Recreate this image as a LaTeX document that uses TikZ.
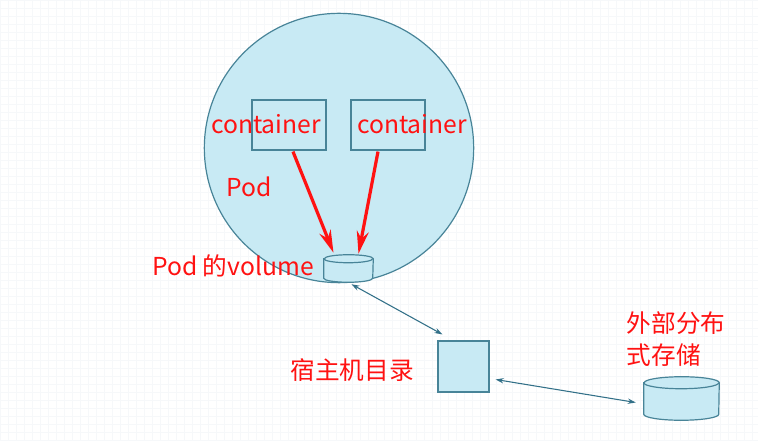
\documentclass[tikz,border=0pt]{standalone}
\usepackage{fontspec}
\setmainfont{Noto Sans CJK SC}
\usetikzlibrary{arrows.meta,calc}

\begin{document}
\begin{tikzpicture}[x=0.75pt,y=-0.75pt]
% Colors
\definecolor{fillColor}{RGB}{200,234,244}
\definecolor{lineColor}{RGB}{72,132,152}
\definecolor{linkColor}{RGB}{50,112,136}
\definecolor{textColor}{RGB}{255,18,18}
\definecolor{gridColor}{RGB}{246,248,250}
\tikzset{
  box/.style={draw=lineColor, fill=fillColor, line width=0.9pt, inner sep=0pt},
  slot/.style={inner sep=0pt},
  tag/.style={text=textColor, font=\fontsize{18.5pt}{24pt}\selectfont, inner sep=0pt},
  flow/.style={draw=textColor, line width=2.4pt, -{Stealth[length=17pt,width=9pt]}},
  link/.style={draw=linkColor, line width=0.8pt, {Stealth[length=6pt,width=4pt]}-{Stealth[length=6pt,width=4pt]}}
}
% Background and grid
\useasboundingbox (0,0) rectangle (758,441);
\fill[white] (0,0) rectangle (758,441);
\draw[gridColor, line width=0.4pt, step=6pt] (0,0) grid (758,441);
% Pod
\node[box, circle, minimum size=202pt] (pod) at (339,148) {};
\node[box, minimum width=55.5pt, minimum height=37.5pt] (boxA) at (289,125) {};
\node[box, minimum width=55.5pt, minimum height=37.5pt] (boxB) at (388,125) {};
% Volume drum
\node[slot, minimum width=36.75pt, minimum height=20.25pt] (vol) at (348.5,268.5) {};
\draw[box] ($(vol.north west)+(0,4)$)
  -- ($(vol.south west)+(0,-4)$)
  arc[start angle=180, end angle=360, x radius=18.375pt, y radius=3pt]
  -- ($(vol.north east)+(0,4)$)
  arc[start angle=0, end angle=180, x radius=18.375pt, y radius=3pt]
  -- cycle;
\draw[lineColor, line width=0.9pt] ($(vol.north west)+(0,4)$)
  arc[start angle=180, end angle=360, x radius=18.375pt, y radius=3pt];
% Host directory
\node[box, minimum size=38.25pt] (host) at (463.5,366.5) {};
% Storage drum
\node[slot, minimum width=56.25pt, minimum height=32.25pt] (store) at (681.5,398.5) {};
\draw[box] ($(store.north west)+(0,6)$)
  -- ($(store.south west)+(0,-6)$)
  arc[start angle=180, end angle=360, x radius=28.125pt, y radius=4.5pt]
  -- ($(store.north east)+(0,6)$)
  arc[start angle=0, end angle=180, x radius=28.125pt, y radius=4.5pt]
  -- cycle;
\draw[lineColor, line width=0.9pt] ($(store.north west)+(0,6)$)
  arc[start angle=180, end angle=360, x radius=28.125pt, y radius=4.5pt];
% Labels
\node[tag] (labA) at (266,124) {container};
\node[tag] (labB) at (412,124) {container};
\node[tag] (labPod) at (249,187) {Pod};
\node[tag] (labVol) at (233,266) {Pod 的volume};
\node[tag] (labHost) at (352,370) {宿主机目录};
\node[tag, align=left] (labStore) at (676,339) {外部分布\\式存储};
% Connections
\draw[flow] ($(boxA.south)+(4,1)$) -- ($(vol.north)+(-15,-2)$);
\draw[flow] ($(boxB.south)+(-10,1)$) -- ($(vol.north)+(10,-1)$);
\draw[link] ($(vol.south)+(3,2)$) -- ($(host.north west)+(5,-6)$);
\draw[link] ($(host.east)+(6,13)$) -- ($(store.west)+(-8,4)$);
\end{tikzpicture}
\end{document}
